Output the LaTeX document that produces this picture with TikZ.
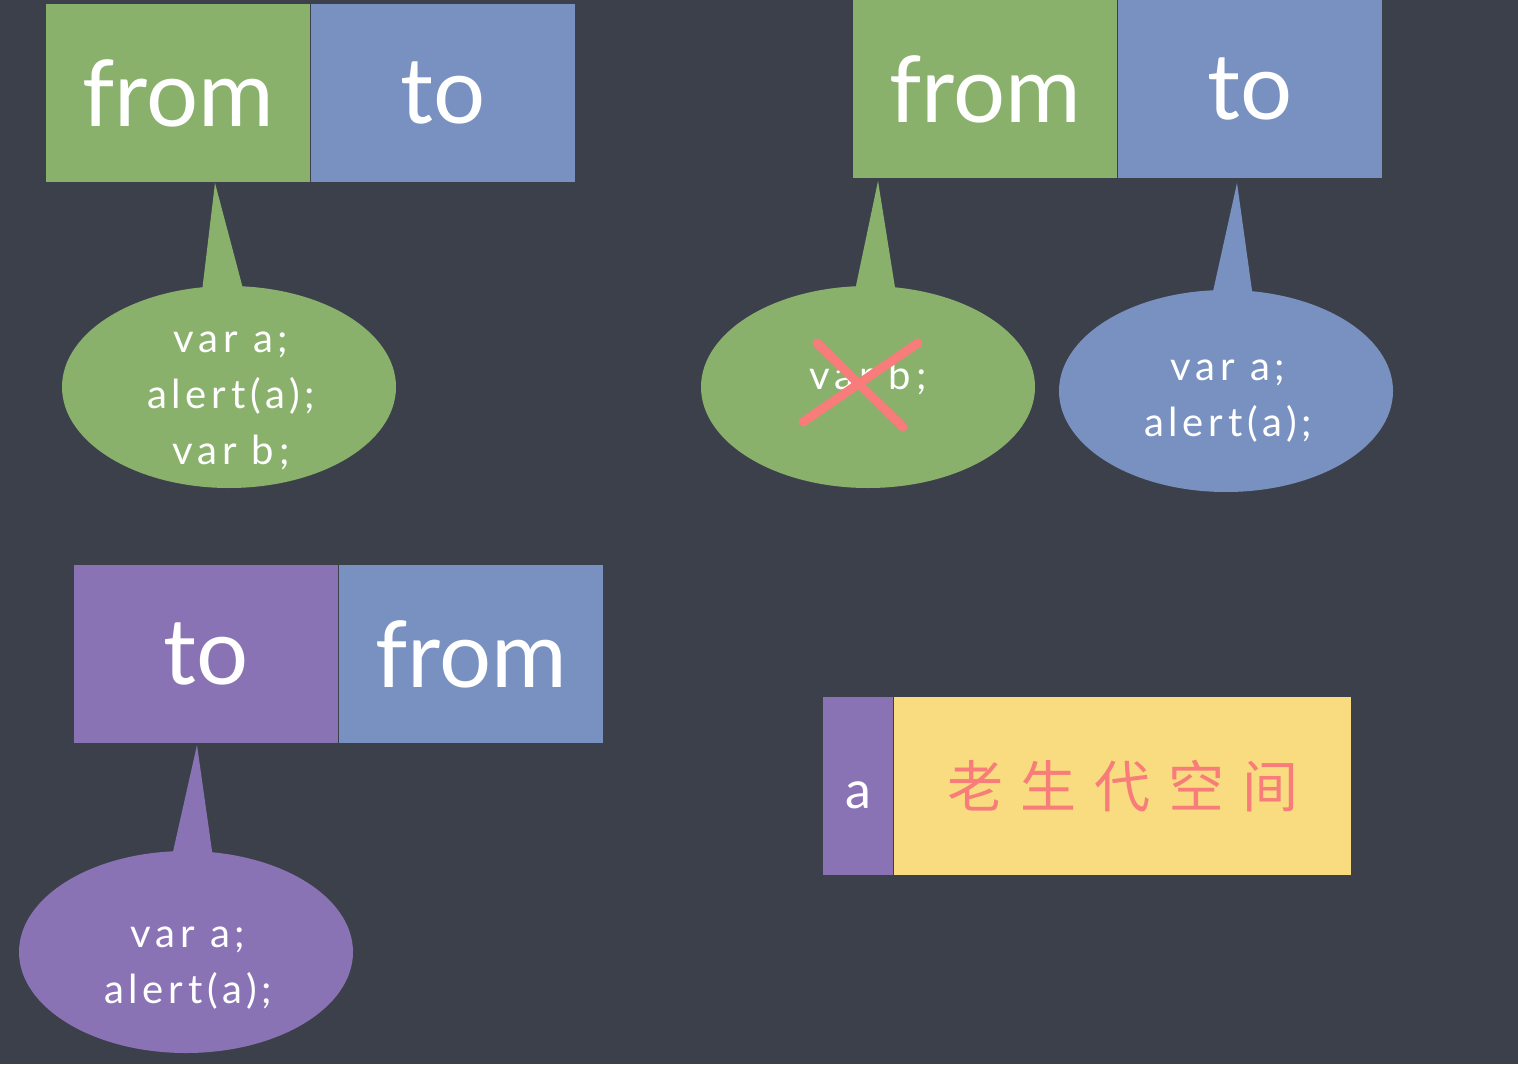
\documentclass[tikz,border=0pt]{standalone}
\usepackage{fontspec}
\setmainfont{Lato}
\newfontfamily\codefont[LetterSpace=12]{Lato}
\newfontfamily\cjk{Noto Sans CJK SC}
\usetikzlibrary{shapes.geometric}
\definecolor{bg}{HTML}{3C404A}
\definecolor{gr}{HTML}{8AB16C}
\definecolor{bl}{HTML}{7991C0}
\definecolor{pu}{HTML}{8A73B5}
\definecolor{ye}{HTML}{F9DC80}
\definecolor{rd}{HTML}{F77C7A}
\begin{document}
\begin{tikzpicture}[x=0.5pt,y=-0.5pt,
  card/.style={rectangle, draw=none, inner sep=0pt, anchor=north west,
    minimum width=132pt, minimum height=89pt, text=white,
    font=\fontsize{46}{50}\selectfont},
  bubble/.style={ellipse, draw=none, inner sep=0pt,
    minimum width=167pt, minimum height=101pt},
  code/.style={text=white, align=center,
    font=\codefont\fontsize{20}{28}\selectfont}]
\fill[bg] (0,0) rectangle (1518,1064);
\useasboundingbox (0,0) rectangle (1518,1064);
% ---------- top left ----------
\node[card, fill=gr] (f1) at (46,4) {from};
\node[card, fill=bl] (t1) at (311,4) {to};
\fill[gr] (215,183) -- (246,300) -- (201,300) -- cycle;
\node[bubble, fill=gr] (b1) at (229,387) {};
\node[code] (c1) at (231,401) {var a;\\alert(a);\\var b;};
% ---------- top right ----------
\node[card, fill=gr] (f2) at (853,0) {from};
\node[card, fill=bl] (t2) at (1118,0) {to};
\fill[gr] (878,181) -- (897,300) -- (853,300) -- cycle;
\node[bubble, fill=gr] (b2) at (868,387) {};
\node[code] (c2) at (868,377) {var b;};
\draw[rd, line width=4.5pt, line cap=round] (817,343) -- (903,427);
\draw[rd, line width=4.5pt, line cap=round] (803,422) -- (918,343);
\fill[bl] (1237,183) -- (1254,305) -- (1210,305) -- cycle;
\node[bubble, fill=bl] (b3) at (1226,391) {};
\node[code] (c3) at (1228,401) {var a;\\alert(a);};
% ---------- bottom left ----------
\node[card, fill=pu] (t3) at (74,565) {to};
\node[card, fill=bl] (f3) at (339,565) {from};
\fill[pu] (197,745) -- (214,865) -- (170,865) -- cycle;
\node[bubble, fill=pu] (b4) at (186,952) {};
\node[code] (c4) at (188,968) {var a;\\alert(a);};
% ---------- bottom right ----------
\node[rectangle, draw=none, fill=pu, inner sep=0pt, anchor=north west,
  minimum width=35pt, minimum height=89pt, text=white,
  font=\fontsize{26}{28}\selectfont] (a) at (823,697) {};
\node[text=white, font=\fontsize{26}{28}\selectfont] (al) at (858,795) {a};
\node[rectangle, draw=none, fill=ye, inner sep=0pt, anchor=north west,
  minimum width=228.5pt, minimum height=89pt, text=rd,
  font=\cjk\fontsize{28}{32}\selectfont] (old) at (894,697)
  {老\hspace{0.32em}生\hspace{0.32em}代\hspace{0.32em}空\hspace{0.32em}间};
\end{tikzpicture}
\end{document}
